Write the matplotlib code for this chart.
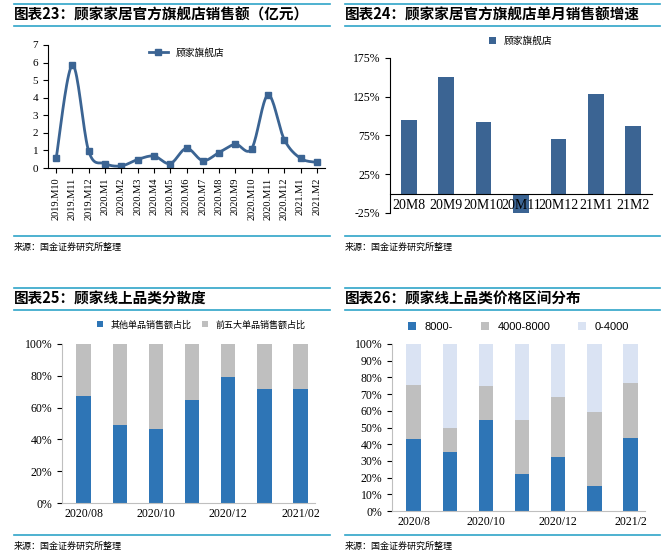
import matplotlib.pyplot as plt
import numpy as np
from matplotlib.lines import Line2D

plt.rcParams['font.family'] = ['Liberation Serif', 'Noto Sans CJK SC', 'DejaVu Sans']

# 数据
months = ['2019.M10', '2019.M11', '2019.M12', '2020.M1', '2020.M2', '2020.M3', '2020.M4',
          '2020.M5', '2020.M6', '2020.M7', '2020.M8', '2020.M9', '2020.M10', '2020.M11',
          '2020.M12', '2021.M1', '2021.M2']
sales = [0.55, 5.85, 0.95, 0.25, 0.12, 0.48, 0.68, 0.25, 1.12, 0.42, 0.88, 1.35, 1.1, 4.15,
         1.62, 0.55, 0.32]

growth_cats = ['20M8', '20M9', '20M10', '20M11', '20M12', '21M1', '21M2']
growth = [95, 150, 93, -25, 70, 128, 87]

share_cats = ['2020/08', '', '2020/10', '', '2020/12', '', '2021/02']
other_share = [67, 49, 46.5, 64.5, 79, 71.5, 71.5]
top5_share = [100 - v for v in other_share]

price_cats = ['2020/8', '', '2020/10', '', '2020/12', '', '2021/2']
p_high = [43, 35.5, 54.5, 22, 32.5, 15, 44]
p_mid = [32.5, 14.5, 20.5, 32.5, 35.5, 44.5, 32.5]
p_low = [100 - a - b for a, b in zip(p_high, p_mid)]

W, H = 666, 550
fig = plt.figure(figsize=(W / 100, H / 100), dpi=100)

def box(x0, y0, x1, y1):
    return [x0 / W, 1 - y1 / H, (x1 - x0) / W, (y1 - y0) / H]

def hline(x0, x1, y, color='#2FA4C8', lw=1.2):
    fig.add_artist(Line2D([x0 / W, x1 / W], [1 - y / H] * 2, color=color, lw=lw))

cjk = ['Noto Sans CJK SC', 'DejaVu Sans']
for x0, x1, y_top, y_bot, title in [(14, 330, 26, 236, '图表23：顾家家居官方旗舰店销售额（亿元）'),
                                     (345, 660, 26, 236, '图表24：顾家家居官方旗舰店单月销售额增速'),
                                     (14, 330, 310, 535, '图表25：顾家线上品类分散度'),
                                     (345, 660, 310, 535, '图表26：顾家线上品类价格区间分布')]:
    hline(x0, x1, y_top - 22)
    hline(x0, x1, y_top)
    hline(x0, x1, y_bot)
    fig.text(x0 / W, 1 - (y_top - 11) / H, title, family=cjk, fontsize=10.5,
             fontweight='bold', style='italic', va='center')
    fig.text(x0 / W, 1 - (y_bot + 11) / H, '来源：国金证券研究所整理', family=cjk,
             fontsize=6.5, va='center')

blue1 = '#3B6493'

# 图表23
ax1 = fig.add_axes(box(48, 45, 325, 168))
x = np.arange(len(sales))
# Catmull-Rom 平滑绘制
pts = np.array([x, sales], dtype=float).T
ext = np.vstack([pts[0], pts, pts[-1]])
curve = []
for i in range(1, len(ext) - 2):
    p0, p1, p2, p3 = ext[i - 1], ext[i], ext[i + 1], ext[i + 2]
    for t in np.linspace(0, 1, 20):
        curve.append(0.5 * (2 * p1 + (-p0 + p2) * t + (2 * p0 - 5 * p1 + 4 * p2 - p3) * t ** 2
                            + (-p0 + 3 * p1 - 3 * p2 + p3) * t ** 3))
curve = np.array(curve)
ax1.plot(curve[:, 0], curve[:, 1], color=blue1, lw=2)
ax1.plot(x, sales, 's', color=blue1, ms=5)
ax1.plot([], [], '-s', color=blue1, lw=2, ms=5, label='顾家旗舰店')
ax1.legend(loc='upper center', frameon=False, prop={'family': cjk, 'size': 7},
           bbox_to_anchor=(0.5, 1.05))
ax1.set_xlim(-0.5, len(sales) - 0.5)
ax1.set_ylim(0, 7)
ax1.set_yticks(range(0, 8))
ax1.set_xticks(x)
ax1.set_xticklabels(months, rotation=90, fontsize=7.5)
ax1.tick_params(axis='y', labelsize=8)
for s in ['top', 'right']:
    ax1.spines[s].set_visible(False)

# 图表24
ax2 = fig.add_axes(box(390, 58, 652, 213))
ax2.bar(np.arange(len(growth)), growth, width=0.42, color=blue1, label='顾家旗舰店')
ax2.set_ylim(-25, 175)
ax2.set_yticks([-25, 25, 75, 125, 175])
ax2.set_yticklabels([f'{v}%' for v in [-25, 25, 75, 125, 175]], fontsize=8.5)
ax2.set_xlim(-0.5, len(growth) - 0.5)
ax2.set_xticks(np.arange(len(growth)))
ax2.set_xticklabels(growth_cats, fontsize=8.5)
ax2.tick_params(axis='x', length=0, pad=4)
ax2.spines['bottom'].set_position(('data', 0))
for s in ['top', 'right']:
    ax2.spines[s].set_visible(False)
ax2.legend(loc='upper center', frameon=False, prop={'family': cjk, 'size': 7},
           bbox_to_anchor=(0.5, 1.2), handlelength=0.7)

# 图表25
blue2 = '#2E75B6'
ax3 = fig.add_axes(box(62, 344, 315, 503))
xi = np.arange(len(other_share))
ax3.bar(xi, other_share, width=0.4, color=blue2, label='其他单品销售额占比')
ax3.bar(xi, top5_share, bottom=other_share, width=0.4, color='#BFBFBF', label='前五大单品销售额占比')
ax3.set_ylim(0, 100)
ax3.set_yticks(range(0, 101, 20))
ax3.set_yticklabels([f'{v}%' for v in range(0, 101, 20)], fontsize=8.5)
ax3.set_xlim(-0.6, 6.4)
ax3.set_xticks(xi)
ax3.set_xticklabels(share_cats, fontsize=8.5)
ax3.tick_params(axis='x', length=0)
ax3.legend(loc='upper center', ncol=2, frameon=False, prop={'family': cjk, 'size': 6.5},
           bbox_to_anchor=(0.55, 1.2), handlelength=0.7, columnspacing=1.2)
for s in ['top', 'right']:
    ax3.spines[s].set_visible(False)
ax3.spines['left'].set_color('#BFBFBF')
ax3.spines['bottom'].set_color('#BFBFBF')

# 图表26
ax4 = fig.add_axes(box(392, 344, 645, 511))
bot = np.array(p_high) + np.array(p_mid)
ax4.bar(xi, p_high, width=0.4, color=blue2, label='8000-')
ax4.bar(xi, p_mid, bottom=p_high, width=0.4, color='#BFBFBF', label='4000-8000')
ax4.bar(xi, p_low, bottom=bot, width=0.4, color='#DAE3F3', label='0-4000')
ax4.set_ylim(0, 100)
ax4.set_yticks(range(0, 101, 10))
ax4.set_yticklabels([f'{v}%' for v in range(0, 101, 10)], fontsize=8.5)
ax4.set_xlim(-0.6, 6.4)
ax4.set_xticks(xi)
ax4.set_xticklabels(price_cats, fontsize=8.5)
ax4.tick_params(axis='x', length=0)
ax4.legend(loc='upper center', ncol=3, frameon=False, prop={'family': 'Liberation Sans', 'size': 8},
           bbox_to_anchor=(0.5, 1.19), handlelength=0.7, columnspacing=2.5)
for s in ['top', 'right']:
    ax4.spines[s].set_visible(False)
ax4.spines['left'].set_color('#BFBFBF')
ax4.spines['bottom'].set_color('#BFBFBF')

fig.savefig('out.png', dpi=100)
